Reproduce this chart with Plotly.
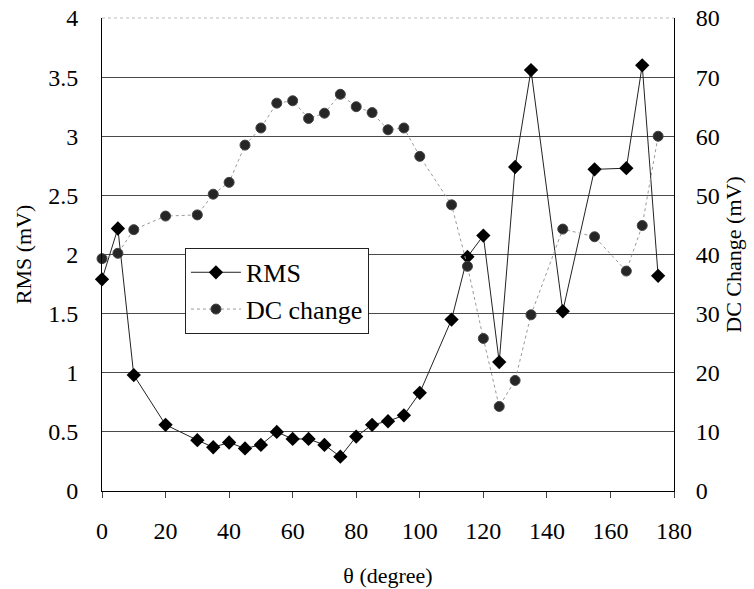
import plotly.graph_objects as go

# Incidence angle (degrees)
theta = [0, 5, 10, 20, 30, 35, 40, 45, 50, 55, 60, 65, 70, 75, 80, 85, 90, 95,
         100, 110, 115, 120, 125, 130, 135, 145, 155, 165, 170, 175]

# RMS noise (mV), left axis
rms = [1.79, 2.22, 0.98, 0.56, 0.43, 0.37, 0.41, 0.36, 0.39, 0.50, 0.44, 0.44,
       0.39, 0.29, 0.46, 0.56, 0.59, 0.64, 0.83, 1.45, 1.98, 2.16, 1.09, 2.74,
       3.56, 1.52, 2.72, 2.73, 3.60, 1.82]

# DC level change (mV), right axis
dc_change = [39.3, 40.2, 44.2, 46.5, 46.7, 50.2, 52.2, 58.5, 61.4, 65.6, 66.0,
             63.0, 63.9, 67.1, 65.0, 64.0, 61.1, 61.4, 56.6, 48.4, 38.0, 25.8,
             14.3, 18.7, 29.8, 44.3, 43.0, 37.2, 44.9, 60.0]

x_ticks = [0, 20, 40, 60, 80, 100, 120, 140, 160, 180]
rms_ticks = [0, 0.5, 1, 1.5, 2, 2.5, 3, 3.5, 4]
rms_tick_text = ["0", "0.5", "1", "1.5", "2", "2.5", "3", "3.5", "4"]
dc_ticks = [0, 10, 20, 30, 40, 50, 60, 70, 80]

FONT = "Liberation Serif, Times New Roman, serif"
tick_font = dict(family=FONT, size=24, color="black")
title_font = dict(family=FONT, size=22, color="black")

fig = go.Figure()

fig.add_trace(go.Scatter(
    x=theta, y=rms, name="RMS", mode="lines+markers",
    line=dict(color="#222222", width=1),
    marker=dict(symbol="diamond", size=11, color="#000000"),
    cliponaxis=False,
))

fig.add_trace(go.Scatter(
    x=theta, y=dc_change, name="DC change", mode="lines+markers", yaxis="y2",
    line=dict(color="#9a9a9a", width=1, dash="dot"),
    marker=dict(symbol="circle", size=10, color="#262626",
                line=dict(color="#444444", width=1)),
    cliponaxis=False,
))

fig.update_layout(
    width=754, height=589,
    margin=dict(l=102, r=80, t=18, b=98, autoexpand=False),
    paper_bgcolor="white", plot_bgcolor="white",
    font=dict(family=FONT, size=23, color="black"),
    showlegend=True,
    legend=dict(
        x=0.145, y=0.514, xanchor="left", yanchor="top",
        bgcolor="white", bordercolor="#222222", borderwidth=1,
        font=dict(family=FONT, size=26, color="black"),
        tracegroupgap=0, itemwidth=50,
    ),
    xaxis=dict(
        range=[0, 180], tickvals=x_ticks, ticks="outside", ticklen=6,
        tickcolor="#444444", showgrid=False, zeroline=False,
        showline=True, linecolor="black", linewidth=1, automargin=False,
        ticklabelstandoff=12, tickfont=tick_font,
        title=dict(text="θ (degree)", font=title_font, standoff=24),
    ),
    yaxis=dict(
        range=[0, 4], tickvals=rms_ticks, ticktext=rms_tick_text, ticks="",
        showgrid=True, gridcolor="#4a4a4a", gridwidth=1,
        zeroline=False, showline=True, linecolor="black", linewidth=1,
        automargin=False, ticklabelstandoff=18, tickfont=tick_font,
        title=dict(text="RMS (mV)", font=title_font, standoff=10),
    ),
    yaxis2=dict(
        range=[0, 80], tickvals=dc_ticks, overlaying="y", side="right",
        ticks="", showgrid=False, zeroline=False, showline=True,
        linecolor="black", linewidth=1, automargin=False,
        ticklabelstandoff=16, tickfont=tick_font,
        title=dict(text="DC Change (mV)", font=title_font, standoff=6),
    ),
    shapes=[dict(type="line", xref="paper", yref="paper", x0=0, x1=1,
                 y0=1, y1=1, line=dict(color="#bbbbbb", width=1, dash="dot"))],
)

fig.write_html("out.html")
